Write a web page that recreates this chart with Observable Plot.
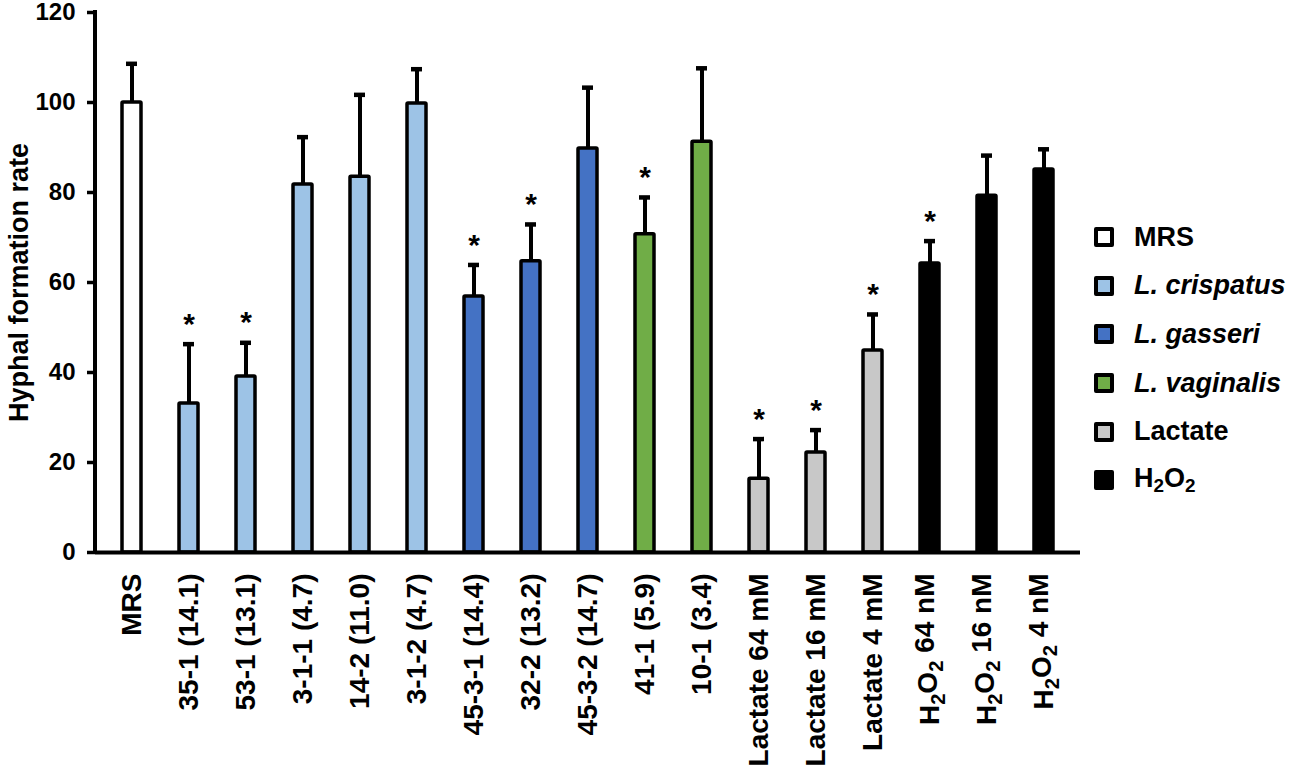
<!DOCTYPE html>
<html>
<head>
<meta charset="utf-8">
<script src="https://cdn.jsdelivr.net/npm/d3@7"></script>
<script src="https://cdn.jsdelivr.net/npm/@observablehq/plot@0.6"></script>
<style>
  body { margin: 0; background: #fff; font-family: "Liberation Sans", Arial, sans-serif; }
  #wrap { position: relative; width: 1299px; height: 770px; }
  #legend { position: absolute; left: 1094px; top: 213px; font-weight: bold; font-size: 27px; color: #000; }
  .item { display: flex; align-items: center; height: 48.6px; }
  .sw { width: 12px; height: 12px; border: 4px solid #000; margin-right: 20px; border-radius: 2px; }
  sub { font-size: 0.7em; vertical-align: -0.25em; }
</style>
</head>
<body>
<div id="wrap"><div id="chart"></div><div id="legend"></div></div>
<script>
const categories = ["MRS","35-1 (14.1)","53-1 (13.1)","3-1-1 (4.7)","14-2 (11.0)","3-1-2 (4.7)","45-3-1 (14.4)","32-2 (13.2)","45-3-2 (14.7)","41-1 (5.9)","10-1 (3.4)","Lactate 64 mM","Lactate 16 mM","Lactate 4 mM","H2O2 64 nM","H2O2 16 nM","H2O2 4 nM"];
const groups = ["MRS","L. crispatus","L. crispatus","L. crispatus","L. crispatus","L. crispatus","L. gasseri","L. gasseri","L. gasseri","L. vaginalis","L. vaginalis","Lactate","Lactate","Lactate","H2O2","H2O2","H2O2"];
const values = [100, 33.1, 39.1, 81.8, 83.5, 99.8, 56.9, 64.7, 89.8, 70.7, 91.3, 16.4, 22.2, 44.9, 64.2, 79.3, 85.1];
const errorTops = [108.6, 46.3, 46.6, 92.3, 101.7, 107.4, 63.9, 72.9, 103.3, 78.9, 107.6, 25.2, 27.2, 52.9, 69.2, 88.2, 89.6];
const significant = [false,true,true,false,false,false,true,true,false,true,false,true,true,true,true,false,false];
const legendGroups = ["MRS","L. crispatus","L. gasseri","L. vaginalis","Lactate","H2O2"];
const legendColors = ["#ffffff","#9dc3e6","#4472c4","#70ad47","#c8c8c8","#000000"];
const yTicks = [0,20,40,60,80,100,120];

const data = categories.map((c,i) => ({cat: c, group: groups[i], value: values[i], err: errorTops[i], sig: significant[i]}));
const font = '"Liberation Sans", Arial, sans-serif';

const chart = Plot.plot({
  width: 1299, height: 770,
  marginLeft: 95, marginRight: 219, marginTop: 12, marginBottom: 218,
  style: {fontFamily: font, fontWeight: "bold", fontSize: "24px", color: "#000", background: "#fff", overflow: "visible"},
  x: {domain: categories, padding: 0.66, paddingOuter: 0.33},
  y: {domain: [0, 120]},
  color: {domain: legendGroups, range: legendColors},
  marks: [
    Plot.ruleX(data, {x: "cat", y1: "value", y2: "err", stroke: "#000", strokeWidth: 4}),
    Plot.tickY(data, {x: "cat", y: "err", stroke: "#000", strokeWidth: 4.5, insetLeft: 4, insetRight: 4}),
    Plot.barY(data, {x: "cat", y: "value", fill: "group", stroke: "#000", strokeWidth: 3.5, rx: 1}),
    Plot.text(data.filter(d => d.sig), {x: "cat", y: "err", text: () => "*", dy: -20, fontSize: 30, fontWeight: "bold", lineAnchor: "middle"}),
    Plot.ruleY([0], {stroke: "#000", strokeWidth: 4}),
    Plot.axisY({ticks: yTicks, tickSize: 8, tickPadding: 12, strokeWidth: 3.5, fontSize: 24, fontWeight: "bold",
      label: "Hyphal formation rate", labelAnchor: "center", labelArrow: "none", labelOffset: 87}),
    Plot.axisX({tickSize: 0, tickRotate: -90, tickPadding: 21, fontSize: 28, fontWeight: "bold", label: null})
  ]
});
document.getElementById("chart").appendChild(chart);

// y axis domain line
const svg = d3.select(chart);
const ys = chart.scale("y");
svg.append("line").attr("x1", 95).attr("x2", 95).attr("y1", ys.apply(120) - 2).attr("y2", ys.apply(0) + 2)
  .attr("stroke", "#000").attr("stroke-width", 4);

// subscripts in H2O2 tick labels
svg.selectAll("text").each(function() {
  const t = d3.select(this);
  const txt = t.text();
  if (txt.startsWith("H2O2")) {
    t.text("");
    t.append("tspan").text("H");
    t.append("tspan").attr("dy", "0.3em").attr("font-size", "0.72em").text("2");
    t.append("tspan").attr("dy", "-0.3em").text("O");
    t.append("tspan").attr("dy", "0.3em").attr("font-size", "0.72em").text("2");
    t.append("tspan").attr("dy", "-0.3em").text(txt.slice(4));
  }
  if (txt === "Hyphal formation rate") t.attr("font-size", 27);
});

// legend
const leg = document.getElementById("legend");
legendGroups.forEach((g, i) => {
  const row = document.createElement("div");
  row.className = "item";
  const sw = document.createElement("div");
  sw.className = "sw"; sw.style.background = legendColors[i];
  const lab = document.createElement("span");
  if (g.startsWith("L.")) lab.style.fontStyle = "italic";
  if (g === "H2O2") lab.innerHTML = "H<sub>2</sub>O<sub>2</sub>"; else lab.textContent = g;
  row.appendChild(sw); row.appendChild(lab);
  leg.appendChild(row);
});
</script>
</body>
</html>
